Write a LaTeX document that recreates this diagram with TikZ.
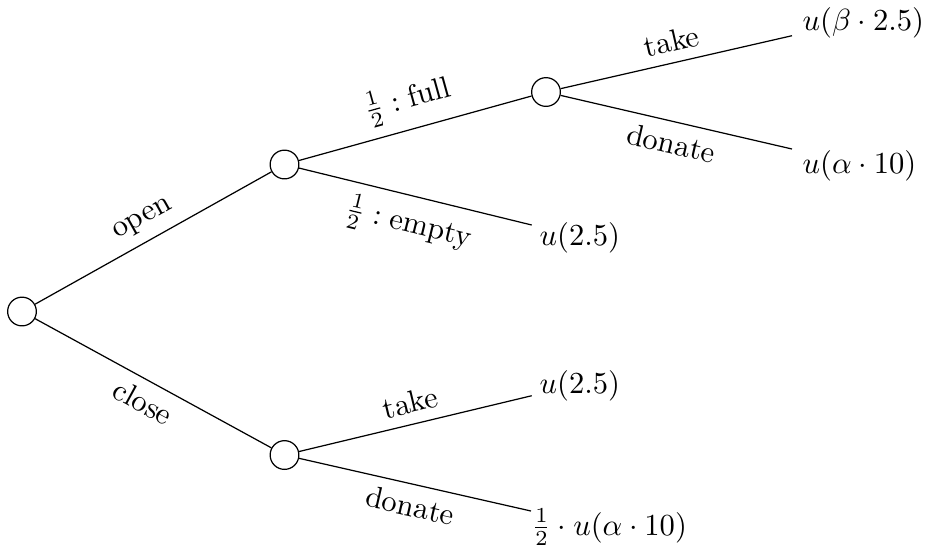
\documentclass[tikz,border=0pt]{standalone}
\begin{document}
\begin{tikzpicture}[x=0.011494cm, y=-0.011494cm,
  dec/.style={draw, circle, inner sep=0pt, minimum size=3.3mm},
  leaf/.style={inner sep=0pt, anchor=base west},
  lab/.style={midway, sloped}]
\useasboundingbox (0,0) rectangle (928,550);
\node[dec] (r) at (22,311.5) {};
\node[dec] (o) at (284.5,164.5) {};
\node[dec] (c) at (284.5,455) {};
\node[dec] (f) at (546,92) {};
\coordinate (e) at (531.7,225);
\coordinate (t1) at (792,35.7);
\coordinate (d1) at (792,149);
\coordinate (t2) at (531.7,395.7);
\coordinate (d2) at (531,511);
\draw (r) -- node[lab, above] {open} (o);
\draw (r) -- node[lab, below] {close} (c);
\draw (o) -- node[lab, above] {$\frac{1}{2}:\mathrm{full}$} (f);
\draw (o) -- node[lab, below] {$\frac{1}{2}:\mathrm{empty}$} (e);
\draw (f) -- node[lab, above] {take} (t1);
\draw (f) -- node[lab, below] {donate} (d1);
\draw (c) -- node[lab, above] {take} (t2);
\draw (c) -- node[lab, below] {donate} (d2);
\node[leaf] (lt1) at (802,30.5) {$u(\beta\cdot 2.5)$};
\node[leaf] (ld1) at (802,173) {$u(\alpha\cdot 10)$};
\node[leaf] (le) at (539,245) {$u(2.5)$};
\node[leaf] (lt2) at (539,393) {$u(2.5)$};
\node[leaf] (ld2) at (531,535) {$\frac{1}{2}\cdot u(\alpha\cdot 10)$};
\end{tikzpicture}
\end{document}
